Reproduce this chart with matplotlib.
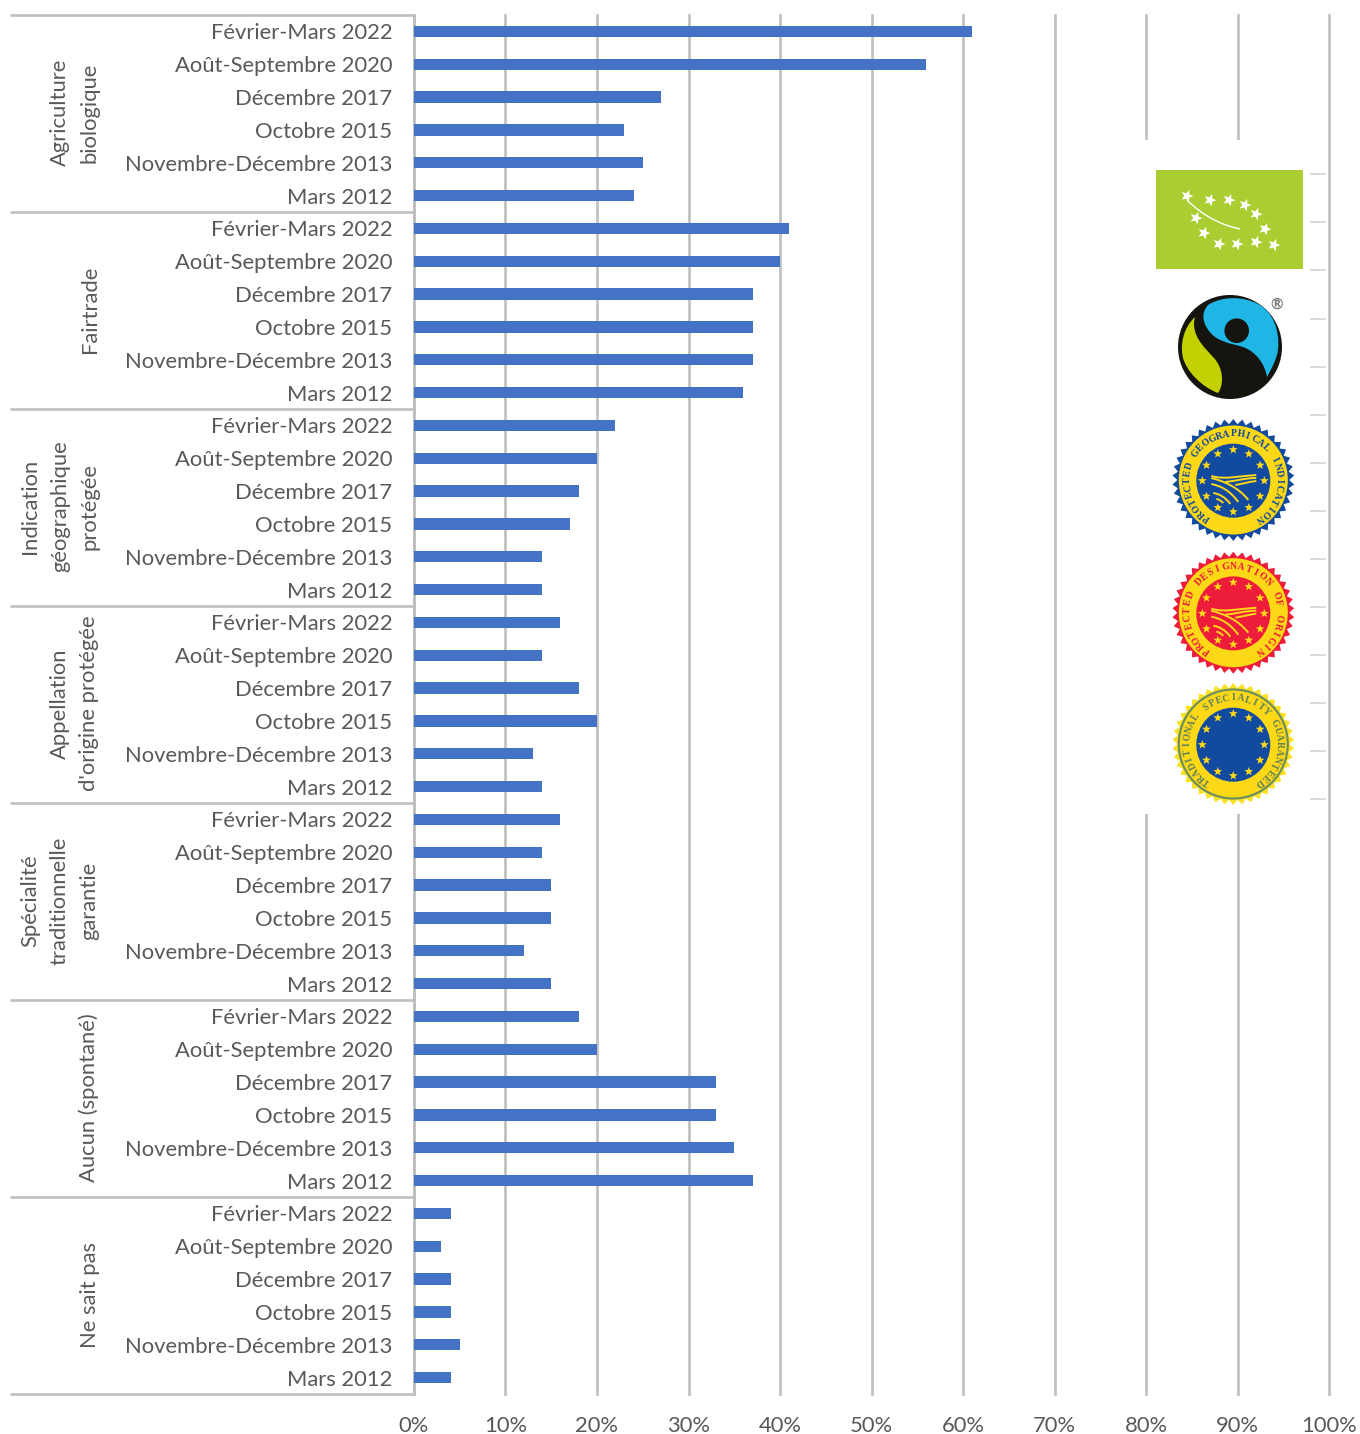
import numpy as np
import matplotlib
matplotlib.use("Agg")
import matplotlib.pyplot as plt
from matplotlib.patches import Circle, Polygon, Rectangle
from matplotlib.path import Path
from matplotlib.patches import PathPatch

plt.rcParams["font.family"] = ["Lato", "DejaVu Sans"]

W, H = 1360, 1434

PERIODS = ["Février-Mars 2022", "Août-Septembre 2020", "Décembre 2017",
           "Octobre 2015", "Novembre-Décembre 2013", "Mars 2012"]
GROUPS = ["Agriculture\nbiologique", "Fairtrade", "Indication\ngéographique\nprotégée",
          "Appellation\nd'origine protégée", "Spécialité\ntraditionnelle\ngarantie",
          "Aucun (spontané)", "Ne sait pas"]

bio = [61, 56, 27, 23, 25, 24]
fairtrade = [41, 40, 37, 37, 37, 36]
igp = [22, 20, 18, 17, 14, 14]
aop = [16, 14, 18, 20, 13, 14]
stg = [16, 14, 15, 15, 12, 15]
aucun = [18, 20, 33, 33, 35, 37]
nsp = [4, 3, 4, 4, 5, 4]
all_values = [bio, fairtrade, igp, aop, stg, aucun, nsp]

BLUE = "#4472c4"
GRID = "#bfbfbf"
TEXT = "#595959"
GOLD = "#fdd817"
FONT_SIZE = 15.8

fig = plt.figure(figsize=(W / 100, H / 100), dpi=100)

# main chart, placed in pixels
ax = fig.add_axes([414 / W, 1 - 1394 / H, (1329 - 414) / W, (1394 - 15) / H])

values = [v for group in all_values for v in group]
y = np.arange(len(values))
ax.barh(y, values, height=0.35, color=BLUE, zorder=3)
ax.set_ylim(len(values) - 0.5, -0.5)
ax.set_xlim(0, 100)
ax.set_xticks(range(0, 101, 10))
ax.set_xticklabels([f"{t}%" for t in range(0, 101, 10)], fontsize=FONT_SIZE, color=TEXT)
ax.set_yticks(y)
ax.set_yticklabels(PERIODS * len(GROUPS), fontsize=FONT_SIZE, color=TEXT)
ax.tick_params(axis="both", length=0)
ax.tick_params(axis="y", pad=15.5)
ax.tick_params(axis="x", pad=16)
ax.grid(axis="x", color=GRID, linewidth=1.9, zorder=1, clip_on=False)
ax.set_axisbelow(True)
for side in ["top", "right", "bottom"]:
    ax.spines[side].set_visible(False)
ax.spines["left"].set_color(GRID)
ax.spines["left"].set_linewidth(1.9)

# overlay in pixel coordinates: group frame and logos
ov = fig.add_axes([0, 0, 1, 1], facecolor="none")
ov.set_xlim(0, W)
ov.set_ylim(H, 0)
ov.axis("off")

step = (1394 - 15) / len(GROUPS)
for i in range(len(GROUPS) + 1):
    yy = 15 + i * step
    ov.plot([10, 414], [yy, yy], color=GRID, linewidth=1.9, solid_capstyle="butt")
for i, name in enumerate(GROUPS):
    ov.text(99.5, 15 + (i + 0.5) * step - 1, name, rotation=90, ha="right", va="center",
            multialignment="center", fontsize=FONT_SIZE, color=TEXT, linespacing=1.6)

# the logo column interrupts the gridlines
ov.add_patch(Rectangle((1130, 140), 178, 674, facecolor="white", edgecolor="none"))
for yy in np.linspace(174.3, 799.3, 14):
    ov.plot([1311, 1325], [yy, yy], color="#d9d9d9", linewidth=1.4)


def star_points(cx, cy, r, rot=-90.0):
    ang = np.deg2rad(rot + np.arange(10) * 36)
    rad = np.where(np.arange(10) % 2 == 0, r, r * 0.42)
    return np.column_stack([cx + rad * np.cos(ang), cy + rad * np.sin(ang)])


def draw_star(cx, cy, r, color, rot=-90.0, z=6):
    ov.add_patch(Polygon(star_points(cx, cy, r, rot), closed=True, facecolor=color,
                         edgecolor="none", zorder=z))


def draw_arc_text(cx, cy, r, text, color, start=-145.0, end=145.0, size=7.0):
    # letters run clockwise, angle measured from the top of the seal
    for ch, a in zip(text, np.linspace(start, end, len(text))):
        t = np.deg2rad(a)
        ov.text(cx + r * np.sin(t), cy - r * np.cos(t), ch, rotation=-a, color=color,
                fontsize=size, family="Liberation Serif", weight="bold",
                ha="center", va="center", rotation_mode="anchor", zorder=7)


def curve(points, color, width):
    ov.add_patch(PathPatch(Path(points, [Path.MOVETO, Path.CURVE4, Path.CURVE4, Path.CURVE4]),
                           facecolor="none", edgecolor=color, linewidth=width, zorder=7))


def draw_field(cx, cy, color):
    # ploughed field lines of the EU quality seals
    rows = [
        [(-22, -3), (-10, 0), (5, 6), (15, 19)],
        [(-22, 3), (-12, 5), (-3, 10), (5, 21)],
        [(-20, 12), (-14, 13), (-8, 16), (-3, 23)],
        [(-17, 18), (-15, 18), (-12, 20), (-10, 22)],
        [(-22, -5), (-8, -1), (6, -5), (23, -6)],
        [(-8, 1), (2, 0), (12, -3), (23, -3)],
        [(2, 4), (8, 3), (15, 1), (23, 0)],
    ]
    for row in rows:
        curve([(cx + px, cy + py) for px, py in row], color, 1.4)


def draw_seal(cx, cy, tooth, ink, centre, text, field=True, ring=None):
    n = 84
    ang = np.linspace(0, 2 * np.pi, n, endpoint=False)
    rad = np.where(np.arange(n) % 2 == 0, 61.0, 56.0)
    teeth = np.column_stack([cx + rad * np.sin(ang), cy - rad * np.cos(ang)])
    ov.add_patch(Polygon(teeth, closed=True, facecolor=tooth, edgecolor="none", zorder=4))
    ov.add_patch(Circle((cx, cy), 54.5, facecolor=GOLD, edgecolor=ring or "none",
                        linewidth=1.6 if ring else 0, zorder=5))
    ov.add_patch(Circle((cx, cy + 0.7), 37, facecolor=centre, edgecolor="none", zorder=6))
    for k in range(12):
        t = np.deg2rad(k * 30)
        draw_star(cx + 31 * np.sin(t), cy + 0.7 - 31 * np.cos(t), 4.6, GOLD, z=7)
    if field:
        draw_field(cx, cy + 1, GOLD)
    draw_arc_text(cx, cy, 46, text, ink)


# organic leaf logo
ov.add_patch(Rectangle((1156, 170), 147, 99, facecolor="#aacd32", edgecolor="none", zorder=4))
leaf_stars = [(1187, 196), (1210, 200), (1229, 200), (1245, 205), (1256, 214), (1265, 229),
              (1274, 245), (1256, 242), (1237, 244), (1219, 244), (1204, 233), (1196, 218)]
for sx, sy in leaf_stars:
    draw_star(sx, sy, 6.5, "white", rot=-70)
curve([(1187, 200), (1205, 218), (1225, 226), (1240, 229)], "white", 1.0)

# fairtrade mark
ov.add_patch(Circle((1230, 347), 52, facecolor="#15140f", edgecolor="none", zorder=4))
blue_part = Path(
    [(1208, 305),
     (1222, 296), (1243, 296), (1258, 304),
     (1273, 312), (1280, 330), (1278, 350),
     (1277, 358), (1272, 368), (1267, 377),
     (1265, 365), (1257, 352), (1243, 347),
     (1230, 343), (1215, 342), (1207, 328),
     (1202, 320), (1202, 312), (1208, 305)],
    [Path.MOVETO] + [Path.CURVE4] * 18)
ov.add_patch(PathPatch(blue_part, facecolor="#1fb6e6", edgecolor="none", zorder=5))
lime_part = Path(
    [(1195, 317),
     (1183, 328), (1180, 345), (1183, 358),
     (1187, 372), (1202, 387), (1218, 393),
     (1224, 385), (1224, 368), (1213, 357),
     (1205, 348), (1190, 335), (1195, 317)],
    [Path.MOVETO] + [Path.CURVE4] * 12)
ov.add_patch(PathPatch(lime_part, facecolor="#c3d100", edgecolor="none", zorder=5))
ov.add_patch(Circle((1236.7, 330.7), 12.3, facecolor="#15140f", edgecolor="none", zorder=6))
ov.text(1277, 305, "®", color="#777777", fontsize=11, weight="bold",
        ha="center", va="center", zorder=6)

# EU quality seals
draw_seal(1233.3, 480, "#114a9f", "#114a9f", "#114a9f", "PROTECTED GEOGRAPHICAL INDICATION")
draw_seal(1233.3, 612.7, "#ee1c3b", "#ee1c3b", "#ee1c3b", "PROTECTED DESIGNATION OF ORIGIN")
draw_seal(1233.3, 744, "#fce121", "#5f8058", "#114a9f", "TRADITIONAL SPECIALITY GUARANTEED",
          field=False, ring="#6f8f5a")

fig.savefig("out.png", dpi=100)
